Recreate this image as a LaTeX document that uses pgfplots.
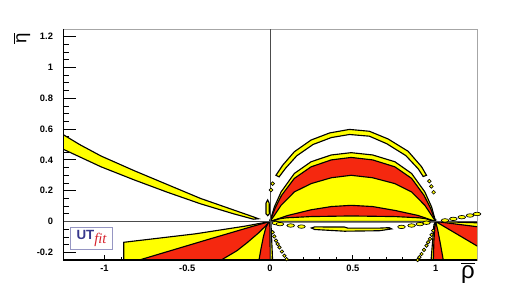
\documentclass[border=0pt]{standalone}
\usepackage{fontspec}
\setmainfont{Liberation Sans}
\newfontfamily\seriffont{Liberation Serif}
\usepackage{pgfplots}
\pgfplotsset{compat=1.18}
\definecolor{ry}{RGB}{255,255,0}
\definecolor{rr}{RGB}{245,40,15}
\definecolor{utblue}{RGB}{55,55,140}
\definecolor{utred}{RGB}{215,35,45}
\definecolor{utframe}{RGB}{150,150,195}
\begin{document}
\begin{tikzpicture}
\useasboundingbox (0,0) rectangle (398.25pt,216.75pt);
\begin{axis}[
 at={(47.25pt,21.75pt)}, anchor=south west,
 scale only axis, width=310.5pt, height=173.25pt,
 xmin=-1.25, xmax=1.25, ymin=-0.25, ymax=1.25,
 xtick={-1,-0.5,0,0.5,1}, xticklabels={-1,-0.5,0,0.5,1},
 ytick={-0.2,0,0.2,0.4,0.6,0.8,1,1.2}, yticklabels={-0.2,0,0.2,0.4,0.6,0.8,1,1.2},
 minor x tick num=4, minor y tick num=3,
 tick pos=left, tick align=inside,
 ticklabel style={font=\fontsize{7}{8}\selectfont\bfseries},
 yticklabel style={xshift=-4pt},
 xtick style={/pgfplots/major tick length=3.5pt, /pgfplots/minor tick length=2pt, black, line width=0.6pt},
 ytick style={/pgfplots/major tick length=9.5pt, /pgfplots/minor tick length=4.5pt, black, line width=0.6pt},
 axis line style={draw=gray!70, line width=0.6pt},
 every axis plot/.append style={line width=0.85pt},
]
% left band
\addplot[fill=ry, draw=black] coordinates {(-1.3,0.6)(-1.25,0.565)(-1.15,0.5)(-1.02,0.425)(-0.82,0.33)(-0.62,0.24)(-0.42,0.15)(-0.22,0.075)(-0.1,0.03)(-0.07,0.018)(-0.1,0.015)(-0.22,0.05)(-0.42,0.115)(-0.62,0.19)(-0.82,0.27)(-1.02,0.355)(-1.15,0.42)(-1.25,0.47)(-1.3,0.5)} -- cycle;
% lower left
\addplot[fill=ry, draw=black] coordinates {(-0.883,-0.3)(-0.883,-0.135)(-0.45,-0.08)(-0.15,-0.03)(0,0)(0.003,-0.3)} -- cycle;
\addplot[fill=rr, draw=black] coordinates {(-0.82,-0.26)(-0.4,-0.125)(-0.1,-0.03)(0,0)(0.003,-0.26)} -- cycle;
\addplot[fill=ry, draw=black] coordinates {(-0.31,-0.26)(-0.2,-0.19)(-0.135,-0.135)(-0.07,-0.075)(-0.034,-0.037)(0,0)(0.003,-0.26)} -- cycle;
\addplot[fill=rr, draw=black] coordinates {(-0.068,-0.26)(-0.055,-0.18)(-0.04,-0.1)(-0.024,-0.035)(-0.01,-0.01)(0,0)(0.003,-0.26)} -- cycle;
\addplot[fill=ry, draw=black] coordinates {(0.003,-0.26)(0,0)(0.006,-0.015)(0.016,-0.26)} -- cycle;
% lower right
\addplot[fill=ry, draw=black] coordinates {(1,0)(1.3,-0.01)(1.3,-0.3)(0.99,-0.3)} -- cycle;
\addplot[fill=rr, draw=black] coordinates {(1,0)(1.26,-0.035)(1.26,-0.165)} -- cycle;
\addplot[fill=ry, draw=black] coordinates {(0.972,-0.26)(0.99,-0.02)(1,0)(0.986,-0.26)} -- cycle;
\addplot[fill=rr, draw=black] coordinates {(0.986,-0.26)(0.99,-0.12)(0.995,-0.04)(1,0)(1.012,-0.05)(1.028,-0.14)(1.048,-0.26)} -- cycle;
% upper arcs
\addplot[fill=ry, draw=black] coordinates {(0,0)(0.026,0.094)(0.067,0.192)(0.147,0.312)(0.248,0.388)(0.37,0.432)(0.49,0.447)(0.62,0.432)(0.754,0.388)(0.855,0.312)(0.935,0.192)(0.976,0.094)(1,0)} -- cycle;
\addplot[fill=rr, draw=black] coordinates {(0,0)(0.03,0.085)(0.07,0.17)(0.147,0.28)(0.248,0.355)(0.37,0.4)(0.49,0.416)(0.62,0.4)(0.754,0.355)(0.855,0.28)(0.93,0.17)(0.97,0.085)(1,0)} -- cycle;
\addplot[fill=ry, draw=black] coordinates {(0,0)(0.026,0.039)(0.067,0.105)(0.147,0.192)(0.248,0.246)(0.37,0.284)(0.49,0.30)(0.62,0.284)(0.754,0.246)(0.855,0.192)(0.935,0.105)(0.976,0.039)(1,0)} -- cycle;
\addplot[fill=rr, draw=black] coordinates {(0,0)(0.107,0.039)(0.248,0.076)(0.37,0.097)(0.49,0.105)(0.62,0.097)(0.754,0.072)(0.895,0.039)(1,0)} -- cycle;
\addplot[fill=ry, draw=black] coordinates {(0,0)(0.06,0.018)(0.1,0.024)(0.248,0.032)(0.49,0.036)(0.754,0.032)(0.9,0.024)(0.94,0.018)(1,0)} -- cycle;
% outer ring
\addplot[fill=ry, draw=black] coordinates {(0.036,0.30)(0.077,0.366)(0.147,0.453)(0.248,0.529)(0.36,0.575)(0.48,0.598)(0.6,0.586)(0.713,0.536)(0.834,0.456)(0.915,0.356)(0.945,0.30)(0.925,0.292)(0.895,0.342)(0.82,0.428)(0.705,0.505)(0.6,0.554)(0.48,0.565)(0.37,0.545)(0.26,0.5)(0.162,0.427)(0.095,0.347)(0.055,0.29)} -- cycle;
\addplot[fill=ry, draw=black] coordinates {(-0.014,0.14)(-0.005,0.12)(-0.004,0.05)(-0.014,0.038)(-0.024,0.05)(-0.024,0.12)} -- cycle;
% below-axis blob
\addplot[fill=ry, draw=black] coordinates {(0.25,-0.042)(0.27,-0.035)(0.45,-0.036)(0.47,-0.043)(0.66,-0.043)(0.72,-0.04)(0.735,-0.048)(0.66,-0.06)(0.45,-0.063)(0.27,-0.052)} -- cycle;
% dots
\addplot[only marks, mark=*, mark size=1.3pt, mark options={fill=ry, draw=black, line width=0.5pt}] coordinates {(0.016,-0.07)(0.026,-0.097)(0.036,-0.124)(0.046,-0.146)(0.057,-0.168)(0.072,-0.195)(0.087,-0.222)(0.1,-0.245)};
\addplot[only marks, mark=*, mark size=1.3pt, mark options={fill=ry, draw=black, line width=0.5pt}] coordinates {(0.986,-0.059)(0.976,-0.086)(0.966,-0.113)(0.955,-0.135)(0.945,-0.157)(0.93,-0.184)(0.915,-0.211)(0.902,-0.232)(0.891,-0.25)};
\addplot[only marks, mark=*, mark size=1.4pt, mark options={fill=ry, draw=black, line width=0.5pt}] coordinates {(0.016,0.246)(0.006,0.205)(0.962,0.262)(0.974,0.228)(0.988,0.19)};
\addplot[only marks, mark=*, mark size=1.3pt, mark options={fill=ry, draw=black, line width=0.5pt, xscale=2.2}] coordinates {(0.035,-0.01)(0.06,-0.017)(0.125,-0.026)(0.19,-0.033)(0.794,-0.035)(0.855,-0.026)(0.905,-0.017)(0.945,-0.008)(1.057,0.007)(1.107,0.017)(1.158,0.028)(1.208,0.039)(1.25,0.049)};
% axis lines
\addplot[gray!60!black, line width=0.5pt] coordinates {(-1.25,0)(1.25,0)};
\addplot[gray!60!black, line width=0.5pt] coordinates {(0,-0.25)(0,1.25)};
\draw[black, line width=0.8pt] (rel axis cs:0,1) -- (rel axis cs:0,0) -- (rel axis cs:1,0);
\node[draw=utframe, fill=white, line width=0.7pt, inner sep=1.5pt, minimum width=32pt, minimum height=17pt] at (rel axis cs:0.069,0.093) {{\fontsize{10}{10}\selectfont\bfseries\color{utblue}UT}\raisebox{-2.5pt}{\seriffont\itshape\fontsize{11}{11}\selectfont\color{utred}fit}};
\end{axis}
\node at (16.5pt,188pt) {\rotatebox{90}{\fontsize{14}{14}\selectfont$\overline{\hbox{η}}$}};
\node at (351pt,12pt) {\fontsize{18}{18}\selectfont$\overline{\hbox{ρ}}$};
\end{tikzpicture}
\end{document}
